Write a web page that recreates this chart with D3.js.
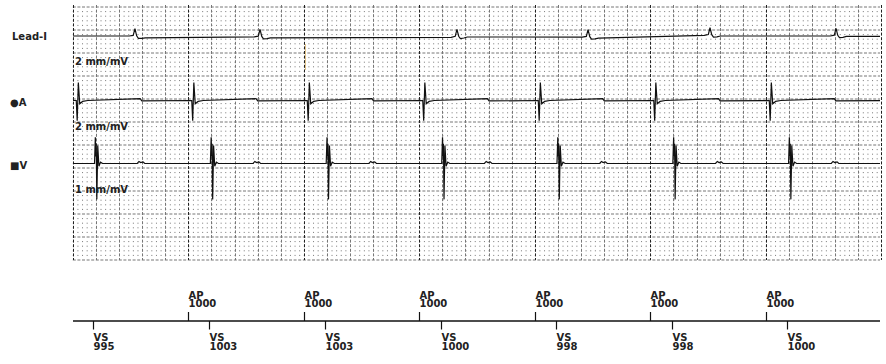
<!DOCTYPE html>
<html>
<head>
<meta charset="utf-8">
<script src="https://cdn.jsdelivr.net/npm/d3@7"></script>
<style>
body { margin: 0; background: #fff; }
svg text { font-family: "DejaVu Sans", sans-serif; font-weight: bold; font-size: 10px; fill: #222; }
</style>
</head>
<body>
<svg id="chart" width="886" height="364"></svg>
<script>
// timing markers (ms from left edge of strip)
var apTimes = [1000, 2000, 3000, 4000, 5000, 6000];
var apLabels = ['1000', '1000', '1000', '1000', '1000', '1000'];
var vsTimes = [178, 1181, 2184, 3184, 4182, 5185, 6187];
var vsLabels = ['995', '1003', '1003', '1000', '998', '998', '1000'];

// beats seen on each channel (ms)
var atrialBeats = [0, 1000, 2000, 3000, 4000, 5000, 6000];
var leadBeats = [538, 1621, 3326, 4461, 5517, 6608];

// waveform shapes: [ms after beat, mV]
var leadShape = [[-50, 0], [-15, 0.1], [0, 0.85], [15, 0.1], [30, -0.15], [60, -0.1], [90, 0]];
var atrialShape = [[30, 0], [38, -2.2], [48, 1.95], [60, -0.35], [85, -0.1], [130, 0]];
var atrialFarField = [[380, 0], [395, 0.2], [410, -0.05], [425, 0]];
var ventShape = [[10, 0], [17, 5.7], [22, 1.5], [25, 4.3], [30, -7.8], [38, 3.9], [48, -0.6], [62, 0.3], [80, 0]];
var ventTWave = [[380, 0], [395, 0.45], [410, 0.2], [430, 0.35], [445, 0]];

// lead-I baseline wander [ms, mV]
var leadBaseline = [[0, 0], [500, 0], [630, -0.2], [1580, -0.1], [1710, -0.2], [3260, -0.15], [3440, -0.1],
  [4390, -0.1], [4570, -0.25], [4910, 0.05], [5430, 0.1], [5600, 0], [6560, 0], [6690, -0.05], [7000, -0.05]];

var channels = ['Lead-I', '\u25CFA', '\u25A0V'];
var gains = ['2 mm/mV', '2 mm/mV', '1 mm/mV'];

var svg = d3.select('#chart');
var x = d3.scaleLinear().domain([0, 7000]).range([72.8, 881.3]);
var gy = d3.scaleLinear().domain([0, 55]).range([7, 260]); // grid in mm
var pxPerMm = gy(1) - gy(0);

svg.append('clipPath').attr('id', 'plot').append('rect')
  .attr('x', 73).attr('y', 0).attr('width', 807).attr('height', 270);

// ---- grid ----
var grid = svg.append('g');
var minorRows = d3.range(0, 56).filter(function(d){ return d % 5 != 0; });
grid.selectAll('.minor').data(minorRows).enter().append('line')
  .attr('x1', x(0)).attr('x2', 880)
  .attr('y1', function(d){ return gy(d); }).attr('y2', function(d){ return gy(d); })
  .attr('stroke', '#777').attr('stroke-width', 1)
  .attr('stroke-dasharray', '1,' + (x(40) - x(0) - 1));
grid.selectAll('.hmaj').data(d3.range(0, 56, 5)).enter().append('line')
  .attr('x1', x(0)).attr('x2', 880)
  .attr('y1', function(d){ return gy(d); }).attr('y2', function(d){ return gy(d); })
  .attr('stroke', '#777').attr('stroke-width', 1).attr('stroke-dasharray', '3,1.6');
grid.selectAll('.vmaj').data(d3.range(0, 7001, 200)).enter().append('line')
  .attr('x1', function(d){ return Math.round(x(d)) + 0.5; })
  .attr('x2', function(d){ return Math.round(x(d)) + 0.5; })
  .attr('y1', gy(0) - 2).attr('y2', gy(55))
  .attr('stroke', function(d){ return d % 1000 == 0 ? '#222' : '#777'; })
  .attr('stroke-width', 1).attr('stroke-dasharray', '3,1.6');

// odd cursor mark
svg.append('line').attr('x1', 305.5).attr('x2', 305.5).attr('y1', 44).attr('y2', 70)
  .attr('stroke', '#e3c58c').attr('stroke-width', 1);

// ---- traces ----
function buildTrace(beats, shapes, baseFn){
  var pts = [[-50, 0], [7050, 0]];
  beats.forEach(function(b){
    shapes.forEach(function(s){
      s.forEach(function(p){ pts.push([b + p[0], p[1]]); });
    });
  });
  pts.sort(function(a, b){ return a[0] - b[0]; });
  return pts.map(function(p){ return [p[0], p[1] + (baseFn ? baseFn(p[0]) : 0)]; });
}

var leadBase = d3.scaleLinear().domain(leadBaseline.map(function(d){ return d[0]; }))
  .range(leadBaseline.map(function(d){ return d[1]; })).clamp(true);
var vFar = vsTimes.map(function(d){ return d + 10; });

var traces = [
  {pts: buildTrace(leadBeats, [leadShape], leadBase), y: d3.scaleLinear().domain([0, 1]).range([36, 36 - 2 * pxPerMm])},
  {pts: buildTrace(atrialBeats, [atrialShape], null), y: d3.scaleLinear().domain([0, 1]).range([100.5, 100.5 - 2 * pxPerMm])},
  {pts: buildTrace(vsTimes, [ventShape, ventTWave], null), y: d3.scaleLinear().domain([0, 1]).range([163.5, 163.5 - pxPerMm])}
];
// far-field ventricular bumps on atrial channel
traces[1].pts = traces[1].pts.concat(buildTrace(vFar, [atrialFarField], null).filter(function(p){ return p[1] != 0; }))
  .sort(function(a, b){ return a[0] - b[0]; });

traces.forEach(function(tr){
  var line = d3.line().x(function(d){ return x(d[0]); }).y(function(d){ return tr.y(d[1]); });
  svg.append('path').attr('d', line(tr.pts))
    .attr('clip-path', 'url(#plot)')
    .attr('fill', 'none').attr('stroke', '#111').attr('stroke-width', 1.2);
});

// ---- labels ----
svg.selectAll('.ch').data(channels).enter().append('text')
  .attr('x', function(d, i){ return i == 0 ? 12 : 10; })
  .attr('y', function(d, i){ return [40, 106, 169][i]; })
  .text(function(d){ return d; });
svg.selectAll('.gain').data(gains).enter().append('text')
  .attr('x', 75).attr('y', function(d, i){ return [65, 130, 193][i]; })
  .text(function(d){ return d; });

// ---- marker timeline ----
var ty = 321;
svg.append('line').attr('x1', 73).attr('x2', 880).attr('y1', ty).attr('y2', ty)
  .attr('stroke', '#111').attr('stroke-width', 1.3);
var ap = svg.selectAll('.ap').data(apTimes).enter().append('g')
  .attr('transform', function(d){ return 'translate(' + (Math.round(x(d)) + 0.5) + ',0)'; });
ap.append('line').attr('y1', ty - 9).attr('y2', ty).attr('stroke', '#111').attr('stroke-width', 1.2);
ap.append('text').attr('y', 298.5).text('AP');
ap.append('text').attr('y', 306.5).text(function(d, i){ return apLabels[i]; });
var vs = svg.selectAll('.vs').data(vsTimes).enter().append('g')
  .attr('transform', function(d){ return 'translate(' + (Math.round(x(d)) + 0.5) + ',0)'; });
vs.append('line').attr('y1', ty).attr('y2', ty + 8.5).attr('stroke', '#111').attr('stroke-width', 1.2);
vs.append('text').attr('y', 341).text('VS');
vs.append('text').attr('y', 349.5).text(function(d, i){ return vsLabels[i]; });
</script>
</body>
</html>
